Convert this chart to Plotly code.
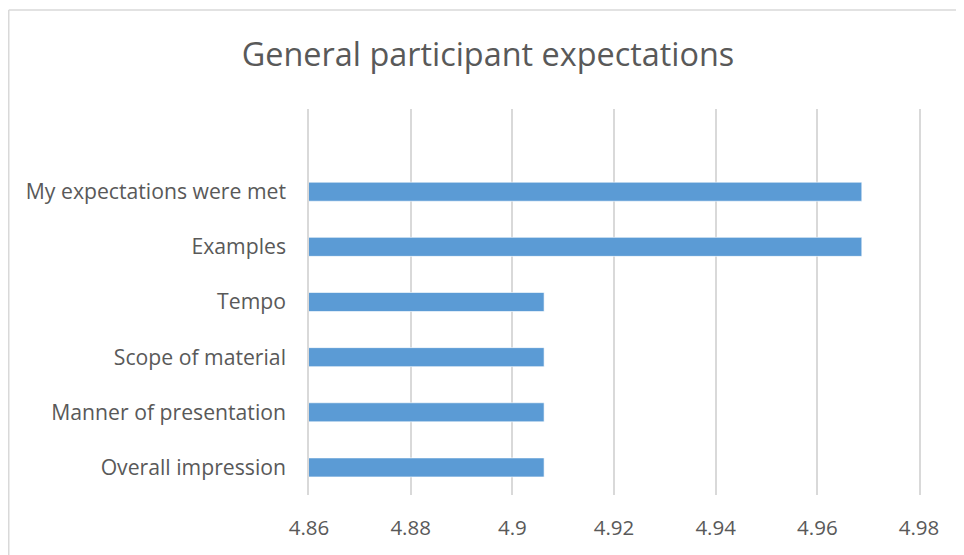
import plotly.graph_objects as go

categories = ["Overall impression", "Manner of presentation", "Scope of material",
              "Tempo", "Examples", "My expectations were met"]
values = [4.90625, 4.90625, 4.90625, 4.90625, 4.96875, 4.96875]
x_ticks = [4.86, 4.88, 4.90, 4.92, 4.94, 4.96, 4.98]
x_tick_labels = ["4.86", "4.88", "4.9", "4.92", "4.94", "4.96", "4.98"]
title_text = "General participant expectations"

# page body has an 8px default margin, so the figure is drawn 8px in from the window edge
W, H = 956, 547
ml, mr, mt, mb = 301, 45, 101, 60
pw, ph = W - ml - mr, H - mt - mb

FONT = "Open Sans"
TXT = "#595959"
GRID = "#D9D9D9"

fig = go.Figure()
fig.add_trace(go.Bar(
    y=categories, x=values, orientation="h",
    marker=dict(color="#5B9BD5", line=dict(color="rgba(255,255,255,0.6)", width=1)),
    hoverinfo="x+y",
))

bx = (0.75 - ml) / pw
by = 1 + (mt - 2) / ph

fig.update_layout(
    width=W, height=H,
    margin=dict(l=ml, r=mr, t=mt, b=mb, autoexpand=False),
    paper_bgcolor="white", plot_bgcolor="white",
    showlegend=False,
    bargap=0.655,
    title=dict(text=title_text, x=(488 - 8) / W, xref="container", xanchor="center",
               y=1 - (55 - 8) / H, yref="container", yanchor="middle",
               font=dict(family=FONT, size=32.4, color=TXT)),
    xaxis=dict(range=[4.86, 4.98], tickvals=x_ticks, ticktext=x_tick_labels,
               showgrid=True, gridcolor=GRID, gridwidth=1.5,
               zeroline=False, showline=False, ticks="",
               ticklabelstandoff=18,
               tickfont=dict(family=FONT, size=20.5, color=TXT)),
    yaxis=dict(type="category", categoryorder="array", categoryarray=categories,
               range=[-0.5, 6.5], showgrid=False, zeroline=False,
               showline=True, linecolor=GRID, linewidth=1.5, mirror=True,
               ticks="", ticklabelstandoff=17,
               tickfont=dict(family=FONT, size=21.2, color=TXT)),
    shapes=[
        dict(type="line", xref="paper", yref="paper", x0=bx, x1=bx, y0=-1, y1=by,
             line=dict(color=GRID, width=1.5)),
        dict(type="line", xref="paper", yref="paper", x0=bx, x1=2, y0=by, y1=by,
             line=dict(color=GRID, width=1.5)),
    ],
)

fig.write_html("out.html")
